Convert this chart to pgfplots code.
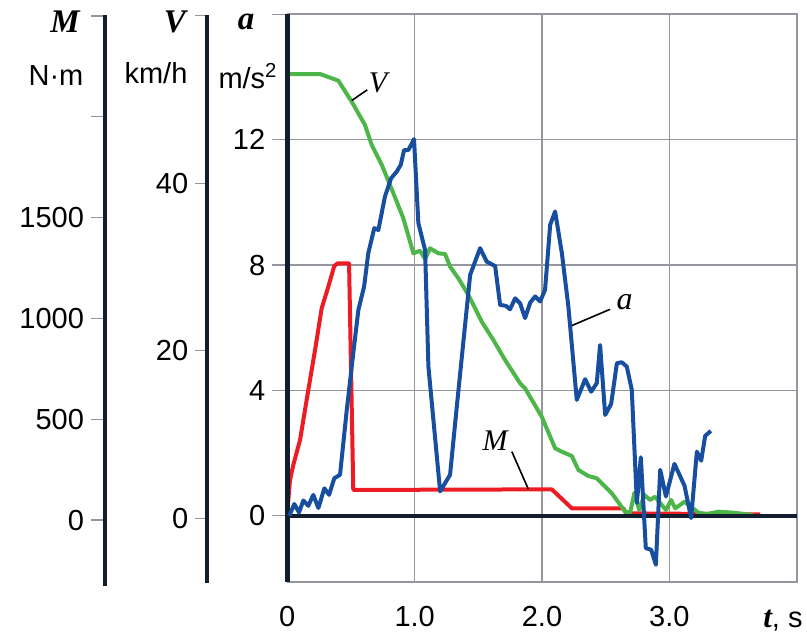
\documentclass[border=0pt]{standalone}
\usepackage{fontspec}
\setmainfont{Liberation Sans}
\newfontfamily\tnr{Liberation Serif}
\usepackage{pgfplots}
\pgfplotsset{compat=1.18}

\definecolor{cblue}{RGB}{24,78,160}
\definecolor{cgreen}{RGB}{77,182,72}
\definecolor{cred}{RGB}{237,28,36}
\definecolor{cdark}{RGB}{18,30,45}
\definecolor{cgrid}{RGB}{150,150,158}

\pgfplotsset{
  base/.style={scale only axis, anchor=south west, xmin=0, xmax=4,
    /pgf/number format/assume math mode=true},
  over/.style={base, at={(143.65pt,24.65pt)}, width=254.7pt, height=283.7pt, hide axis},
  side/.style={scale only axis, anchor=south west, width=1pt, xmin=0, xmax=1,
    hide x axis, axis line style={draw=none}, ytick pos=left, tick align=outside,
    major tick length=7pt, ytick style={cgrid, line width=0.6pt},
    /pgf/number format/assume math mode=true},
  curve/.style={line width=2pt, line join=round, no markers},
}

\begin{document}
\begin{tikzpicture}[font=\fontsize{14.5}{17}\selectfont]
\useasboundingbox (0,0) rectangle (403.5pt,315.5pt);

% M scale
\begin{axis}[side, at={(52.5pt,22.5pt)}, height=285.5pt, ymin=-327, ymax=2505,
  ytick={0,500,1000,1500,2000,2500}, yticklabels={0,500,1000,1500,,}]
\end{axis}
\draw[cdark, line width=2pt] (52.5pt,22.5pt) -- (52.5pt,308pt);

% V scale
\begin{axis}[side, at={(103.65pt,24pt)}, height=284pt, ymin=-7.73, ymax=60.1,
  ytick={0,20,40,60}, yticklabels={0,20,40,}, major tick length=6pt]
\end{axis}
\draw[cdark, line width=2pt] (103.65pt,24pt) -- (103.65pt,308pt);

% a scale and frame
\begin{axis}[base, at={(143.65pt,24.65pt)}, width=254.7pt, height=283.7pt,
  ymin=-2.1, ymax=16,
  xtick={0,1,2,3}, xticklabels={0,1.0,2.0,3.0},
  ytick={0,4,8,12,16}, yticklabels={0,4,8,12,},
  grid=major, major grid style={cgrid, line width=0.6pt},
  axis line style={cgrid, line width=0.8pt},
  ytick pos=left, tick align=outside, major tick length=7.5pt,
  ytick style={cgrid, line width=0.6pt}, xtick style={draw=none},
  xticklabel style={anchor=base, inner sep=0pt, yshift=-15pt}]
\end{axis}

% M, N.m
\begin{axis}[over, ymin=-306, ymax=2508]
\addplot[curve, cred] coordinates {
 (0,40) (0.021,198) (0.047,273) (0.100,397) (0.165,645) (0.218,843) (0.270,1050)
 (0.322,1157) (0.369,1260) (0.396,1273) (0.485,1273) (0.518,149) (2.077,152)
 (2.234,58) (2.639,58) (2.661,33) (3.713,28)};
\end{axis}

% V, km/h
\begin{axis}[over, ymin=-7.57, ymax=60.18]
\addplot[curve, cgreen] coordinates {
 (0,53.05) (0.257,53.05) (0.401,52.25) (0.506,49.74) (0.610,46.96) (0.663,44.57)
 (0.742,42.19) (0.833,38.81) (0.911,35.82) (0.990,31.64) (1.042,31.95) (1.082,30.96)
 (1.121,32.24) (1.186,31.64) (1.239,31.56) (1.278,30.04) (1.343,28.66) (1.422,26.66)
 (1.527,23.47) (1.618,21.29) (1.710,18.90) (1.828,16.12) (1.867,15.52) (1.998,12.13)
 (2.103,8.36) (2.156,7.95) (2.234,7.44) (2.286,5.77) (2.364,5.05) (2.430,4.78)
 (2.548,2.99) (2.653,0.79) (2.692,0.67) (2.726,3.06) (2.763,0.99) (2.804,2.78)
 (2.849,2.19) (2.888,2.58) (2.973,0.99) (3.014,2.19) (3.046,1.19) (3.119,1.98)
 (3.229,0.67) (3.294,0.51) (3.386,0.79) (3.504,0.67) (3.658,0.39)};
\end{axis}

\draw[cdark, line width=2pt] (143.65pt,57.56pt) -- (398.35pt,57.56pt);
\draw[cdark, line width=2.2pt] (143.65pt,24.65pt) -- (143.65pt,308.35pt);

% a, m/s^2
\begin{axis}[over, ymin=-2.1, ymax=16]
\addplot[curve, cblue] coordinates {
 (0.016,0.0) (0.055,0.38) (0.092,0.11) (0.126,0.49) (0.165,0.32) (0.204,0.67)
 (0.244,0.25) (0.291,0.88) (0.328,0.67) (0.369,1.20) (0.414,1.31) (0.467,3.38)
 (0.518,5.19) (0.558,6.57) (0.603,7.31) (0.636,8.38) (0.683,9.18) (0.715,9.12)
 (0.767,10.19) (0.815,10.77) (0.859,10.98) (0.891,11.20) (0.917,11.67) (0.951,11.67)
 (0.995,12.02) (1.029,9.34) (1.082,8.48) (1.108,4.76) (1.200,0.78) (1.278,1.31)
 (1.331,3.49) (1.436,7.69) (1.514,8.54) (1.566,8.11) (1.632,7.97) (1.671,6.73)
 (1.716,6.70) (1.749,6.59) (1.789,6.94) (1.828,6.78) (1.867,6.31) (1.907,6.80)
 (1.946,7.00) (1.985,6.84) (2.024,7.21) (2.064,9.28) (2.103,9.71) (2.156,8.38)
 (2.207,6.68) (2.273,3.70) (2.339,4.36) (2.386,3.96) (2.430,4.23) (2.456,5.45)
 (2.496,3.22) (2.543,3.57) (2.588,4.87) (2.627,4.90) (2.666,4.76) (2.705,4.02)
 (2.745,0.41) (2.776,1.87) (2.815,-1.03) (2.857,-1.08) (2.894,-1.56) (2.928,1.47)
 (2.973,0.62) (3.040,1.66) (3.119,0.96) (3.171,-0.07) (3.216,2.05) (3.250,1.76)
 (3.281,2.55) (3.326,2.71)};
\draw[black, line width=0.8pt] (axis cs:0.506,13.25) -- (axis cs:0.628,13.59);
\node[anchor=base, inner sep=0pt, font={\fontsize{15}{17}\selectfont\tnr\itshape}]
  at (axis cs:0.712,13.49) {V};
\draw[black, line width=0.8pt] (axis cs:2.234,6.07) -- (axis cs:2.535,6.59);
\node[anchor=base west, inner sep=0pt, font={\fontsize{16}{18}\selectfont\tnr\itshape}]
  at (axis cs:2.582,6.59) {a};
\draw[black, line width=0.8pt] (axis cs:1.763,2.05) -- (axis cs:1.893,0.85);
\node[anchor=base, inner sep=0pt, font={\fontsize{15}{17}\selectfont\tnr\itshape}]
  at (axis cs:1.631,2.10) {M};
\end{axis}

\begin{scope}[every node/.style={inner sep=0pt}]
\node[anchor=base, font={\fontsize{16.5}{18}\selectfont\tnr\bfseries\itshape}] at (32.5pt,299pt) {M};
\node[anchor=base, font={\fontsize{16.5}{18}\selectfont\tnr\bfseries\itshape}] at (87.5pt,299pt) {V};
\node[anchor=base, font={\fontsize{16.5}{18}\selectfont\tnr\bfseries\itshape}] at (123pt,300.5pt) {a};
\node[anchor=base] at (28pt,272.5pt) {N·m};
\node[anchor=base] at (78pt,273.8pt) {km/h};
\node[anchor=base] at (124pt,271.3pt) {m/s\textsuperscript{2}};
\node[anchor=base east] at (401.5pt,2pt) {{\fontsize{15.5}{17}\selectfont\tnr\bfseries\itshape t}, s};
\end{scope}
\end{tikzpicture}
\end{document}
